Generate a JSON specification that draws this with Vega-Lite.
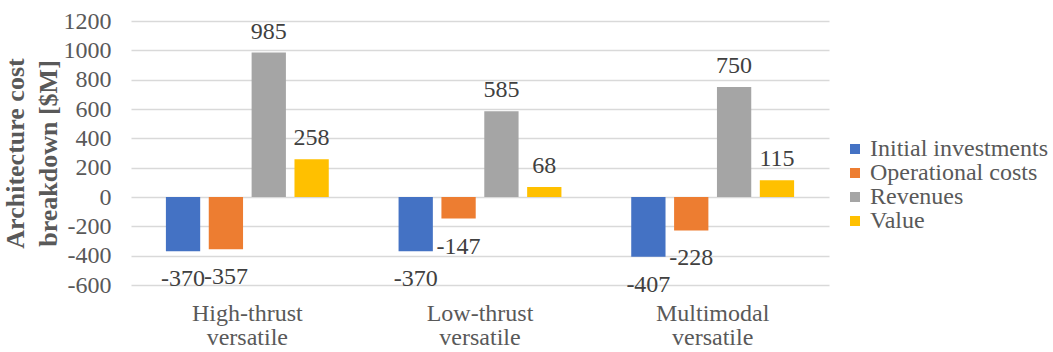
{
  "$schema": "https://vega.github.io/schema/vega-lite/v6.json",
  "width": 698,
  "height": 264,
  "autosize": {"type": "none"},
  "padding": {"left": 131, "top": 21, "right": 224, "bottom": 67},
  "background": "white",
  "config": {
    "view": {"stroke": null},
    "font": "Liberation Serif",
    "text": {"font": "Liberation Serif"},
    "axis": {"labelFont": "Liberation Serif", "titleFont": "Liberation Serif"},
    "legend": {"labelFont": "Liberation Serif"}
  },
  "data": {
    "values": [
      {"architecture": "High-thrust versatile", "series": "Initial investments", "value": -370},
      {"architecture": "High-thrust versatile", "series": "Operational costs", "value": -357},
      {"architecture": "High-thrust versatile", "series": "Revenues", "value": 985},
      {"architecture": "High-thrust versatile", "series": "Value", "value": 258},
      {"architecture": "Low-thrust versatile", "series": "Initial investments", "value": -370},
      {"architecture": "Low-thrust versatile", "series": "Operational costs", "value": -147},
      {"architecture": "Low-thrust versatile", "series": "Revenues", "value": 585},
      {"architecture": "Low-thrust versatile", "series": "Value", "value": 68},
      {"architecture": "Multimodal versatile", "series": "Initial investments", "value": -407},
      {"architecture": "Multimodal versatile", "series": "Operational costs", "value": -228},
      {"architecture": "Multimodal versatile", "series": "Revenues", "value": 750},
      {"architecture": "Multimodal versatile", "series": "Value", "value": 115}
    ]
  },
  "encoding": {
    "x": {
      "field": "architecture",
      "type": "nominal",
      "sort": null,
      "scale": {"paddingInner": 0.3, "paddingOuter": 0.15},
      "axis": {
        "title": null,
        "labelAngle": 0,
        "labelExpr": "split(datum.label, ' ')",
        "labelFontSize": 24,
        "labelLineHeight": 24,
        "labelColor": "#595959",
        "labelPadding": 16,
        "ticks": false,
        "domain": false
      }
    },
    "xOffset": {
      "field": "series",
      "type": "nominal",
      "sort": null,
      "scale": {"paddingInner": 0.2}
    },
    "y": {
      "field": "value",
      "type": "quantitative",
      "scale": {"domain": [-600, 1200], "nice": false, "zero": false},
      "axis": {
        "values": [-600, -400, -200, 0, 200, 400, 600, 800, 1000, 1200],
        "labelExpr": "'' + datum.value",
        "title": ["Architecture cost", "breakdown [$M]"],
        "titleFontSize": 26,
        "titleFontWeight": "bold",
        "titleColor": "#595959",
        "titleLineHeight": 33,
        "titlePadding": 2,
        "labelFontSize": 24,
        "labelColor": "#595959",
        "labelPadding": 20,
        "ticks": false,
        "domain": false,
        "grid": true,
        "gridColor": "#D9D9D9",
        "gridWidth": 1.3
      }
    }
  },
  "layer": [
    {
      "mark": {"type": "bar"},
      "encoding": {
        "color": {
          "field": "series",
          "type": "nominal",
          "sort": null,
          "scale": {
            "domain": ["Initial investments", "Operational costs", "Revenues", "Value"],
            "range": ["#4472C4", "#ED7D31", "#A5A5A5", "#FFC000"]
          },
          "legend": {
            "title": null,
            "orient": "none",
            "legendX": 712,
            "legendY": 116,
            "symbolType": "square",
            "symbolSize": 100,
            "symbolStrokeWidth": 0,
            "labelFontSize": 24,
            "labelColor": "#595959",
            "labelOffset": 3,
            "labelLimit": 300,
            "rowPadding": -4
          }
        }
      }
    },
    {
      "transform": [{"filter": "datum.value > 0"}],
      "mark": {"type": "text", "baseline": "middle", "dy": -21, "fontSize": 24, "color": "#404040"},
      "encoding": {"text": {"field": "value", "type": "nominal"}}
    },
    {
      "transform": [{"filter": "datum.value < 0"}],
      "mark": {"type": "text", "baseline": "middle", "dy": 28, "fontSize": 24, "color": "#404040"},
      "encoding": {"text": {"field": "value", "type": "nominal"}}
    }
  ]
}
